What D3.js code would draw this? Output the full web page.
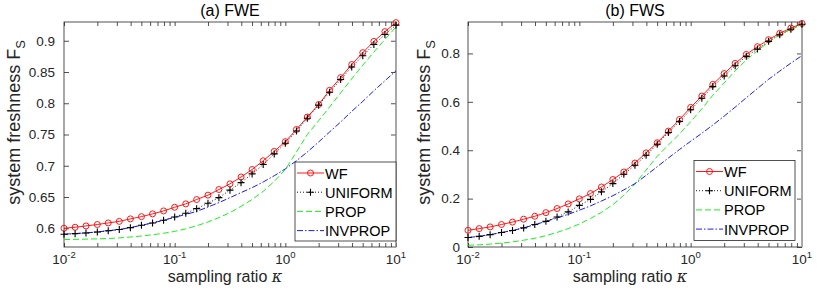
<!DOCTYPE html>
<html>
<head>
<meta charset="utf-8">
<script src="https://cdn.jsdelivr.net/npm/d3@7/dist/d3.min.js"></script>
<style>
body { margin: 0; background: #fff; }
svg { display: block; font-family: "Liberation Sans", Arial, sans-serif; }
</style>
</head>
<body>
<svg width="817" height="291"></svg>
<script>
var kappa = [0.01, 0.0126, 0.0158, 0.02, 0.0251, 0.0316, 0.0398, 0.0501, 0.0631, 0.0794,
  0.1, 0.126, 0.158, 0.2, 0.251, 0.316, 0.398, 0.501, 0.631, 0.794,
  1, 1.26, 1.58, 2, 2.51, 3.16, 3.98, 5.01, 6.31, 7.94, 10];

var seriesNames = ["WF", "UNIFORM", "PROP", "INVPROP"];
var xTicks = [0.01, 0.1, 1, 10];
var xTickExp = ["-2", "-1", "0", "1"];

// (a) FWE
var fweWF = [0.600, 0.6016, 0.6037, 0.606, 0.6085, 0.611, 0.615, 0.6186, 0.623, 0.6277,
  0.6336, 0.639, 0.646, 0.653, 0.662, 0.671, 0.682, 0.694, 0.708, 0.723,
  0.7386, 0.758, 0.778, 0.798, 0.8208, 0.841, 0.862, 0.881, 0.899, 0.9146, 0.929];
var fweUniform = [0.5904, 0.5914, 0.5925, 0.594, 0.596, 0.598, 0.601, 0.6048, 0.6085, 0.6128,
  0.618, 0.624, 0.6314, 0.640, 0.649, 0.661, 0.673, 0.687, 0.702, 0.719,
  0.736, 0.7557, 0.776, 0.797, 0.8176, 0.838, 0.858, 0.876, 0.894, 0.910, 0.925];
var fweProp = [0.582, 0.5822, 0.5826, 0.583, 0.5836, 0.5845, 0.586, 0.5876, 0.5896, 0.592,
  0.595, 0.599, 0.604, 0.610, 0.617, 0.625, 0.635, 0.646, 0.659, 0.675,
  0.694, 0.722, 0.750, 0.772, 0.794, 0.8165, 0.839, 0.861, 0.882, 0.902, 0.922];
var fweInvprop = [0.5905, 0.5915, 0.5926, 0.594, 0.596, 0.598, 0.601, 0.6048, 0.6085, 0.6128,
  0.6175, 0.622, 0.627, 0.634, 0.641, 0.649, 0.657, 0.665, 0.674, 0.684,
  0.695, 0.708, 0.722, 0.738, 0.754, 0.770, 0.787, 0.803, 0.820, 0.836, 0.852];
var fweYTicks = [0.6, 0.65, 0.7, 0.75, 0.8, 0.85, 0.9];
var fweYDomain = [0.57, 0.93];

// (b) FWS
var fwsWF = [0.069, 0.076, 0.083, 0.093, 0.103, 0.115, 0.127, 0.142, 0.159, 0.178,
  0.199, 0.221, 0.248, 0.279, 0.310, 0.347, 0.389, 0.431, 0.479, 0.527,
  0.577, 0.624, 0.672, 0.717, 0.759, 0.796, 0.828, 0.857, 0.883, 0.905, 0.924];
var fwsUniform = [0.039, 0.044, 0.051, 0.060, 0.068, 0.079, 0.093, 0.106, 0.124, 0.145,
  0.172, 0.197, 0.228, 0.262, 0.301, 0.338, 0.379, 0.425, 0.473, 0.519,
  0.567, 0.615, 0.663, 0.707, 0.749, 0.788, 0.818, 0.850, 0.877, 0.900, 0.921];
var fwsProp = [0.007, 0.009, 0.012, 0.016, 0.021, 0.028, 0.036, 0.047, 0.060, 0.076,
  0.095, 0.118, 0.143, 0.175, 0.214, 0.260, 0.318, 0.375, 0.422, 0.467,
  0.518, 0.571, 0.627, 0.678, 0.728, 0.773, 0.812, 0.847, 0.877, 0.900, 0.918];
var fwsInvprop = [0.039, 0.044, 0.051, 0.060, 0.068, 0.079, 0.092, 0.106, 0.120, 0.135,
  0.152, 0.170, 0.190, 0.212, 0.236, 0.262, 0.296, 0.332, 0.368, 0.403,
  0.437, 0.470, 0.504, 0.541, 0.578, 0.617, 0.655, 0.693, 0.727, 0.760, 0.791];
var fwsYTicks = [0, 0.2, 0.4, 0.6, 0.8];
var fwsYDomain = [0, 0.93];

var axisColor = "#262626";
var styles = [
  { color: "#ff0000", dash: null, marker: "o" },
  { color: "#000000", dash: "1,2", marker: "+" },
  { color: "#00ee00", dash: "6,3", marker: null },
  { color: "#0000ff", dash: "6,2,1.5,2", marker: null }
];

var svg = d3.select("svg");

function drawPanel(p) {
  var w = p.width, h = p.height;
  var g = svg.append("g").attr("transform", "translate(" + p.left + "," + p.top + ")");

  var x = d3.scaleLog().domain([0.01, 10]).range([0, w]);
  var y = d3.scaleLinear().domain(p.yDomain).range([h, 0]);

  var minor = [];
  xTicks.slice(0, 3).forEach(function (t) {
    for (var m = 2; m <= 9; m++) minor.push(t * m);
  });

  // inward ticks on all four sides
  g.append("g").attr("transform", "translate(0," + h + ")")
    .call(d3.axisBottom(x).tickValues(xTicks.concat(minor)).tickSize(-4).tickFormat(""));
  g.append("g")
    .call(d3.axisTop(x).tickValues(xTicks.concat(minor)).tickSize(-4).tickFormat(""));
  g.append("g")
    .call(d3.axisLeft(y).tickValues(p.yTicks).tickSize(-5).tickPadding(p.tickPad)
      .tickFormat(function (d) { return d; }));
  g.append("g").attr("transform", "translate(" + w + ",0)")
    .call(d3.axisRight(y).tickValues(p.yTicks).tickSize(-5).tickFormat(""));

  g.selectAll(".domain").remove();
  g.selectAll(".tick line").attr("stroke", axisColor).attr("stroke-width", 0.8);
  g.selectAll(".tick text").attr("fill", axisColor).attr("font-size", "13.5px")
    .attr("font-family", "Liberation Sans, Arial, sans-serif");

  g.append("rect").attr("width", w).attr("height", h)
    .attr("fill", "none").attr("stroke", axisColor).attr("stroke-width", 0.8);
  g.append("line").attr("x1", w).attr("x2", w).attr("y1", 0).attr("y2", h)
    .attr("stroke", "#a8a8a8").attr("stroke-width", p.rightEdge);

  // x tick labels 10^n
  xTicks.forEach(function (t, i) {
    var tx = g.append("text").attr("x", x(t)).attr("y", h + 16.5)
      .attr("text-anchor", "middle").attr("fill", axisColor).attr("font-size", "13.5px");
    tx.append("tspan").text("10");
    tx.append("tspan").attr("dy", -6).attr("font-size", "9.5px").text(xTickExp[i]);
  });

  // series
  var line = d3.line()
    .x(function (d, i) { return x(kappa[i]); })
    .y(function (d) { return y(d); });

  p.series.forEach(function (s, k) {
    var st = styles[k];
    g.append("path").datum(s).attr("d", line)
      .attr("fill", "none").attr("stroke", st.color).attr("stroke-width", 0.9)
      .attr("stroke-dasharray", st.dash);
  });

  p.series.forEach(function (s, k) {
    var st = styles[k];
    if (st.marker === "o") {
      g.selectAll(".mo" + k).data(s).enter().append("circle")
        .attr("cx", function (d, i) { return x(kappa[i]); })
        .attr("cy", function (d) { return y(d); })
        .attr("r", 3).attr("fill", "none").attr("stroke", st.color).attr("stroke-width", 0.9);
    } else if (st.marker === "+") {
      g.selectAll(".mp" + k).data(s).enter().append("path")
        .attr("d", function (d, i) {
          var cx = x(kappa[i]), cy = y(d);
          return "M" + (cx - 3.5) + "," + cy + "H" + (cx + 3.5) + "M" + cx + "," + (cy - 3.5) + "V" + (cy + 3.5);
        })
        .attr("stroke", st.color).attr("stroke-width", 1.1);
    }
  });

  // titles and labels
  g.append("text").attr("x", w / 2).attr("y", -6).attr("text-anchor", "middle")
    .attr("fill", "#000").attr("font-size", "16px").text(p.title);

  var xl = g.append("text").attr("x", w / 2 - 5).attr("y", h + 34.5).attr("text-anchor", "middle")
    .attr("fill", axisColor).attr("font-size", "16px");
  xl.append("tspan").text("sampling ratio ");
  xl.append("tspan").attr("font-style", "italic").attr("font-family", "DejaVu Serif, serif").text("κ");

  var yl = g.append("text")
    .attr("transform", "translate(" + p.yLabelX + "," + (h / 2 - 12) + ") rotate(-90)")
    .attr("text-anchor", "middle").attr("fill", axisColor).attr("font-size", "18px");
  yl.append("tspan").text("system freshness F");
  yl.append("tspan").attr("dy", 5).attr("font-size", "13px").text("S");

  // legend
  var lg = g.append("g").attr("transform", "translate(" + p.legend[0] + "," + p.legend[1] + ")");
  lg.append("rect").attr("width", 101).attr("height", p.legend[2])
    .attr("fill", "#fff").attr("stroke", axisColor).attr("stroke-width", 0.8);
  seriesNames.forEach(function (name, k) {
    var st = styles[k], ry = 11 + k * 19.2;
    lg.append("line").attr("x1", 2).attr("x2", 29).attr("y1", ry).attr("y2", ry)
      .attr("stroke", st.color).attr("stroke-width", 0.9).attr("stroke-dasharray", st.dash);
    if (st.marker === "o") {
      lg.append("circle").attr("cx", 15.5).attr("cy", ry).attr("r", 3)
        .attr("fill", "none").attr("stroke", st.color).attr("stroke-width", 0.9);
    } else if (st.marker === "+") {
      lg.append("path").attr("d", "M12," + ry + "H19M15.5," + (ry - 3.5) + "V" + (ry + 3.5))
        .attr("stroke", st.color).attr("stroke-width", 1.1);
    }
    lg.append("text").attr("x", 30).attr("y", ry + 5.5).attr("fill", "#000")
      .attr("font-size", "14.5px").text(name);
  });
}

drawPanel({
  left: 64, top: 22, width: 332, height: 225,
  yDomain: fweYDomain, yTicks: fweYTicks, tickPad: 9, rightEdge: 1,
  series: [fweWF, fweUniform, fweProp, fweInvprop],
  title: "(a) FWE", yLabelX: -44, legend: [231, 140, 79]
});

drawPanel({
  left: 468, top: 22, width: 334, height: 225,
  yDomain: fwsYDomain, yTicks: fwsYTicks, tickPad: 8, rightEdge: 2,
  series: [fwsWF, fwsUniform, fwsProp, fwsInvprop],
  title: "(b) FWS", yLabelX: -38, legend: [226, 138.5, 80]
});
</script>
</body>
</html>
